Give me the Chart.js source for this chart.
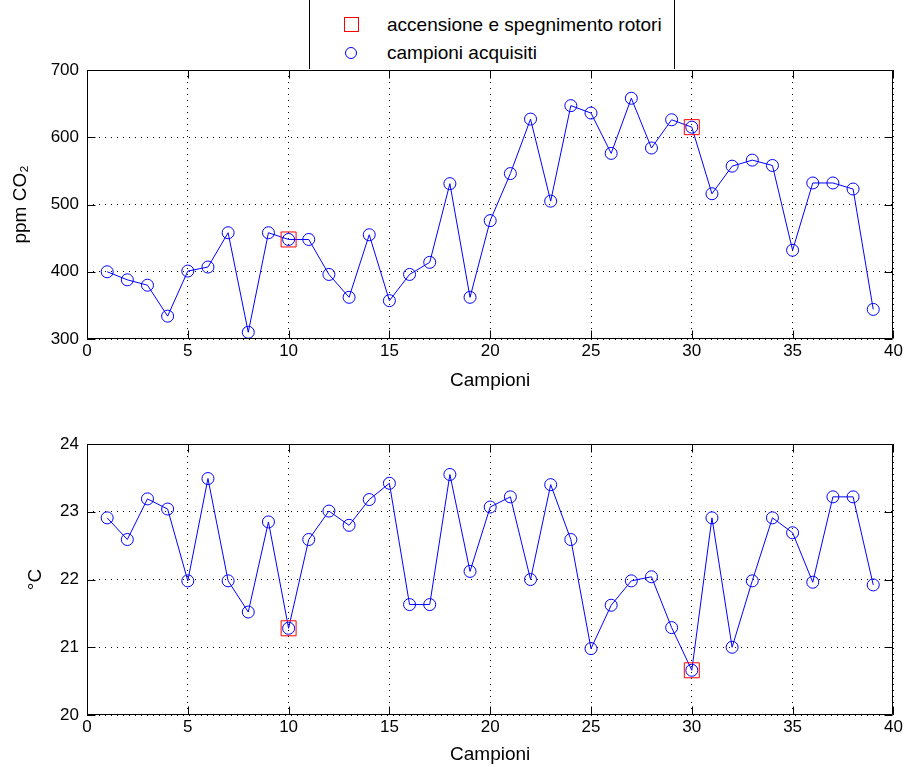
<!DOCTYPE html>
<html>
<head>
<meta charset="utf-8">
<script src="https://cdn.jsdelivr.net/npm/chart.js@4.4.1/dist/chart.umd.min.js"></script>
<style>
  body { margin: 0; background: #fff; font-family: "Liberation Sans", Arial, sans-serif; }
  #wrap { position: relative; width: 905px; height: 767px; overflow: hidden; }
  #top { position: absolute; left: 0; top: 0; }
  #bottom { position: absolute; left: 0; top: 400px; }
  #legend {
    position: absolute; left: 309px; top: -2px; width: 364px; height: 71px;
    border-left: 1px solid #000; border-right: 1px solid #000; background: #fff;
    font-size: 19px; color: #000;
  }
  .row { position: absolute; left: 0; height: 24px; line-height: 24px; }
  .row span.txt { position: absolute; left: 77px; white-space: nowrap; }
  .sq { position: absolute; left: 34px; top: 4px; width: 13px; height: 13px; border: 1px solid #ff0000; }
  .ci { position: absolute; left: 35px; top: 6px; width: 10px; height: 10px; border: 1px solid #0000ff; border-radius: 50%; }
</style>
</head>
<body>
<div id="wrap">
  <canvas id="top" width="905" height="400"></canvas>
  <canvas id="bottom" width="905" height="367"></canvas>
  <div id="legend">
    <div class="row" style="top:15px"><div class="sq"></div><span class="txt">accensione e spegnimento rotori</span></div>
    <div class="row" style="top:43px"><div class="ci"></div><span class="txt">campioni acquisiti</span></div>
  </div>
</div>
<script>
const samples = [1, 2, 3, 4, 5, 6, 7, 8, 9, 10, 11, 12, 13, 14, 15, 16, 17, 18, 19, 20,
  21, 22, 23, 24, 25, 26, 27, 28, 29, 30, 31, 32, 33, 34, 35, 36, 37, 38, 39];
const co2 = [400, 388, 380, 334, 401, 407, 458, 310, 458, 448, 448, 396, 362, 455, 357, 396, 414, 531, 362, 476,
  546, 627, 505, 647, 636, 576, 658, 584, 626, 615, 516, 557, 566, 558, 432, 532, 532, 523, 344];
const temp = [22.91, 22.59, 23.19, 23.04, 21.98, 23.49, 21.98, 21.52, 22.85, 21.28, 22.59, 23.01, 22.80, 23.18, 23.42, 21.63, 21.63, 23.55, 22.12, 23.07,
  23.22, 22.00, 23.40, 22.59, 20.98, 21.62, 21.98, 22.04, 21.29, 20.66, 22.91, 21.00, 21.98, 22.91, 22.69, 21.96, 23.22, 23.22, 21.92];
const rotorSamples = [10, 30];
const xTicks = [0, 5, 10, 15, 20, 25, 30, 35, 40];
const co2Ticks = [300, 400, 500, 600, 700];
const tempTicks = [20, 21, 22, 23, 24];

const FONT = "'Liberation Sans', Arial, sans-serif";

// axes box with inward tick marks, like the original figure
const boxPlugin = {
  id: "box",
  afterDraw(chart) {
    const { ctx, chartArea: a, scales } = chart;
    const L = Math.round(a.left) + 0.5, R = Math.round(a.right) - 0.5;
    const T = Math.round(a.top) + 0.5, B = Math.round(a.bottom) - 0.5;
    const len = 8;
    ctx.save();
    ctx.strokeStyle = "#000";
    ctx.lineWidth = 1;
    ctx.beginPath();
    ctx.rect(L, T, R - L, B - T);
    scales.x.ticks.forEach((t) => {
      const px = Math.round(scales.x.getPixelForValue(t.value)) + 0.5;
      ctx.moveTo(px, B); ctx.lineTo(px, B - len);
      ctx.moveTo(px, T); ctx.lineTo(px, T + len);
    });
    scales.y.ticks.forEach((t) => {
      const py = Math.round(scales.y.getPixelForValue(t.value)) + 0.5;
      ctx.moveTo(L, py); ctx.lineTo(L + len, py);
      ctx.moveTo(R, py); ctx.lineTo(R - len, py);
    });
    ctx.stroke();
    ctx.restore();
  },
};

function pairs(xs, ys) {
  return xs.map((x, i) => ({ x: x, y: ys[i] }));
}

function makeChart(id, values, tickList, yTitle, opts) {
  const rotorPts = rotorSamples.map((s) => ({ x: s, y: values[samples.indexOf(s)] }));
  return new Chart(document.getElementById(id), {
    type: "line",
    data: {
      datasets: [
        {
          label: "accensione e spegnimento rotori",
          data: rotorPts,
          showLine: false,
          pointStyle: "rect",
          pointRadius: 10.6,
          borderColor: "#ff0000",
          backgroundColor: "rgba(0,0,0,0)",
          borderWidth: 1,
        },
        {
          label: "campioni acquisiti",
          data: pairs(samples, values),
          borderColor: "#0000ff",
          backgroundColor: "rgba(0,0,0,0)",
          borderWidth: 1,
          pointStyle: "circle",
          pointRadius: 6,
          pointBorderWidth: 1,
          tension: 0,
        },
      ],
    },
    options: {
      responsive: false,
      animation: false,
      layout: { padding: { top: opts.padTop, right: 11, left: 0, bottom: 0 } },
      plugins: { legend: { display: false }, tooltip: { enabled: false } },
      scales: {
        x: {
          type: "linear",
          min: 0,
          max: 40,
          afterBuildTicks: (s) => { s.ticks = xTicks.map((v) => ({ value: v })); },
          afterFit: (s) => { s.height = opts.xHeight; },
          ticks: { color: "#000", font: { family: FONT, size: 17 }, padding: 2, maxRotation: 0 },
          grid: { color: "#000", lineWidth: 1, drawTicks: false },
          border: { display: false, dash: [1, 5] },
          title: {
            display: true, text: "Campioni", color: "#000",
            font: { family: FONT, size: 19 }, padding: { top: 0, bottom: opts.xTitlePad },
          },
        },
        y: {
          min: tickList[0],
          max: tickList[tickList.length - 1],
          afterBuildTicks: (s) => { s.ticks = tickList.map((v) => ({ value: v })); },
          afterFit: (s) => { s.width = 87; },
          ticks: { color: "#000", font: { family: FONT, size: 17 }, padding: 8 },
          grid: { color: "#000", lineWidth: 1, drawTicks: false },
          border: { display: false, dash: [1, 5] },
          title: {
            display: true, text: yTitle, color: "#000",
            font: { family: FONT, size: 19 }, padding: { top: opts.yTitlePad, bottom: 0 },
          },
        },
      },
    },
    plugins: [boxPlugin],
  });
}

makeChart("top", co2, co2Ticks, "ppm CO₂", { padTop: 70, xHeight: 61, xTitlePad: 7.5, yTitlePad: 9.5 });
makeChart("bottom", temp, tempTicks, "°C", { padTop: 44, xHeight: 52, xTitlePad: 0.5, yTitlePad: 24 });
</script>
</body>
</html>
